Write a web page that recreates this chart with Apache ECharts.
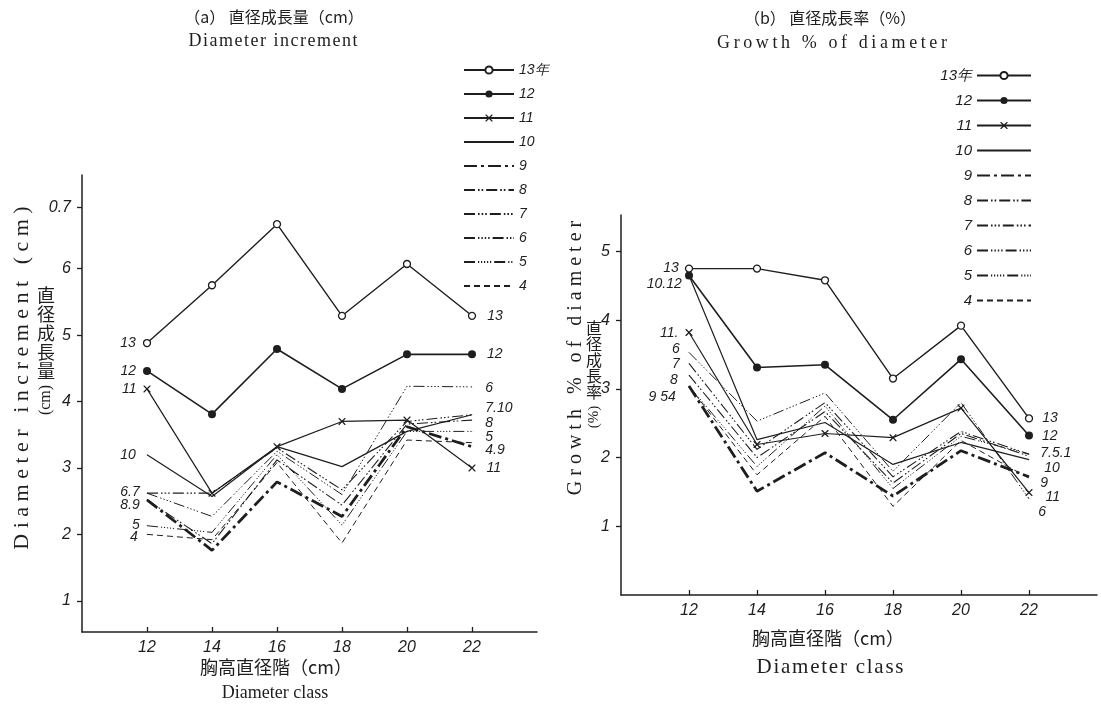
<!DOCTYPE html>
<html><head><meta charset="utf-8">
<script src="https://cdn.jsdelivr.net/npm/echarts@6/dist/echarts.min.js"></script>
<style>html,body{margin:0;padding:0;background:#fff}#c{width:1101px;height:708px}</style>
</head><body><div id="c"></div><script>
// ---- data ----
const classes = [12, 14, 16, 18, 20, 22];
const seriesNames = ['13年', '12', '11', '10', '9', '8', '7', '6', '5', '4'];
const yTicksLeft = [1, 2, 3, 4, 5, 6, 6.92];
const yTickLabelsLeft = ['1', '2', '3', '4', '5', '6', '0.7'];
const yTicksRight = [1, 2, 3, 4, 5];

// (a) diameter increment
const incr13 = [4.88, 5.75, 6.67, 5.29, 6.07, 5.29];
const incr12 = [4.46, 3.81, 4.79, 4.19, 4.71, 4.71];
const incr11 = [4.19, 2.62, 3.32, 3.70, 3.72, 3.00];
const incr10 = [3.20, 2.57, 3.32, 3.02, 3.55, 3.80];
const incr9  = [2.52, 1.76, 2.79, 2.27, 3.62, 3.32];
const incr8  = [2.52, 1.86, 3.12, 2.44, 3.66, 3.72];
const incr7  = [2.62, 2.62, 3.30, 2.67, 3.70, 3.80];
const incr6  = [2.62, 2.27, 3.25, 2.60, 4.23, 4.22];
const incr5  = [2.13, 2.03, 3.20, 2.14, 3.55, 3.55];
const incr4  = [2.00, 1.92, 3.08, 1.87, 3.42, 3.38];

// (b) growth % of diameter
const pct13 = [4.75, 4.75, 4.58, 3.15, 3.92, 2.57];
const pct12 = [4.65, 3.31, 3.35, 2.55, 3.43, 2.32];
const pct11 = [3.82, 2.19, 2.35, 2.29, 2.72, 1.49];
const pct10 = [4.65, 2.26, 2.51, 1.90, 2.22, 1.97];
const pct9  = [3.04, 1.51, 2.07, 1.44, 2.10, 1.72];
const pct8  = [3.20, 2.00, 2.67, 1.63, 2.35, 2.02];
const pct7  = [3.37, 2.12, 2.80, 1.72, 2.38, 2.05];
const pct6  = [3.53, 2.53, 2.94, 1.80, 2.80, 1.40];
const pct5  = [3.04, 1.87, 2.75, 1.55, 2.31, 2.05];
const pct4  = [3.04, 1.75, 2.60, 1.29, 2.25, 1.70];

const incrValues = [incr13, incr12, incr11, incr10, incr9, incr8, incr7, incr6, incr5, incr4];
const pctValues  = [pct13, pct12, pct11, pct10, pct9, pct8, pct7, pct6, pct5, pct4];

// line annotations (text only)
const leftStartLabels  = {'13年':'13','12':'12','11':'11','10':'10','7':'6.7','9':'8.9','5':'5','4':'4'};
const leftEndLabels    = {'13年':'13','12':'12','11':'11','6':'6','10':'7.10','8':'8','5':'5','9':'4.9'};
const rightStartLabels = {'13年':'13','10':'10.12','11':'11.','6':'6','7':'7','8':'8','9':'9 54'};
const rightEndLabels   = {'13年':'13','12':'12','7':'7.5.1','10':'10','9':'9','11':'11','6':'6'};

// ---- styles ----
const INK = '#1e1e1e';
const XPATH = 'path://M0,0L1.3,0L5,3.7L8.7,0L10,0L10,1.3L6.3,5L10,8.7L10,10L8.7,10L5,6.3L1.3,10L0,10L0,8.7L3.7,5L0,1.3Z';
const lineDef = {
  '13年': {w:1.4, t:'solid', sym:'circle', size:7, fill:'#fff'},
  '12':   {w:1.6, t:'solid', sym:'circle', size:8, fill:INK},
  '11':   {w:1.2, t:'solid', sym:XPATH, size:7, fill:INK},
  '10':   {w:1.2, t:'solid', sym:'none'},
  '9':    {w:2.8, t:[13,4,3,4], sym:'none'},
  '8':    {w:1.1, t:[11,3,1.6,2,1.6,3], sym:'none'},
  '7':    {w:1.1, t:[11,3,1.6,2,1.6,2,1.6,3], sym:'none'},
  '6':    {w:1.0, t:[11,3,1.4,2,1.4,2,1.4,2,1.4,3], sym:'none'},
  '5':    {w:1.0, t:[11,3,1.2,1.8,1.2,1.8,1.2,1.8,1.2,1.8,1.2,3], sym:'none'},
  '4':    {w:1.0, t:[6,4], sym:'none'}
};
const labelFont = {fontFamily:'Liberation Sans', fontStyle:'italic', fontSize:14, color:INK};

const leftStartOff = {'13年':[-2,0],'12':[-2,0],'11':[-2,0],'10':[-6,0],'7':[-2,-1],'9':[-2,5],'5':[-2,-1],'4':[-4,3]};
const leftEndOff   = {'13年':[6,0],'12':[6,0],'11':[6,0],'6':[8,1],'10':[8,-7],'8':[8,3],'5':[8,6],'9':[8,3]};
const rightStartOff= {'13年':[-1,0],'10':[-2,9],'11':[-2,1],'6':[-4,-3],'7':[-4,1],'8':[-6,5],'9':[-8,11]};
const rightEndOff  = {'13年':[4,0],'12':[4,1],'7':[6,-1],'10':[10,8],'9':[6,6],'11':[8,4],'6':[4,13]};

function buildSeries(valuesList, axisIdx, startL, endL, startO, endO) {
  return seriesNames.map((name, si) => {
    const d = lineDef[name];
    const plain = d.sym === 'none';
    const data = classes.map((c, i) => {
      const item = {value: [c, valuesList[si][i]]};
      let txt = null, pos = null, off = null;
      if (i === 0 && startL[name]) { txt = startL[name]; pos = 'left'; off = startO[name]; }
      if (i === classes.length - 1 && endL[name]) { txt = endL[name]; pos = 'right'; off = endO[name]; }
      if (txt) item.label = Object.assign({show:true, formatter:txt, position:pos, offset:off, distance:5}, labelFont);
      return item;
    });
    return {
      name, type:'line', xAxisIndex:axisIdx, yAxisIndex:axisIdx,
      data, symbol: plain ? 'circle' : d.sym, symbolSize: plain ? 0.5 : d.size, showSymbol:true,
      lineStyle:{color:INK, width:d.w, type:d.t},
      itemStyle:{color:d.fill || INK, borderColor:INK, borderWidth: name === '13年' ? 1.3 : 0},
      emphasis:{disabled:true}, animation:false, z: 10 - si
    };
  });
}
const legendData = seriesNames.map(n => lineDef[n].sym === 'none' ? {name:n, itemStyle:{opacity:0}} : {name:n});

const serif = 'Liberation Serif, DejaVu Serif, Noto Sans CJK JP, serif';
const cjk = 'Noto Sans CJK JP, sans-serif';
function spaced(s, sp) { return s.split('').join(sp); }

function txt(x, y, text, size, font, extra) {
  extra = extra || {};
  return {type:'text', x, y, rotation: extra.rotation || 0,
    style:Object.assign({text, fontSize:size, fontFamily:font, fill:INK, align:'center', verticalAlign:'middle'}, extra.style || {})};
}

const axisCommon = {
  axisLine:{show:true, lineStyle:{color:INK, width:1.5}},
  splitLine:{show:false},
};
const tickFont = {fontFamily:'Liberation Sans', fontStyle:'italic', fontSize:16, color:INK};

const chart = echarts.init(document.getElementById('c'), null, {renderer:'canvas'});
chart.setOption({
  backgroundColor:'#fff',
  animation:false,
  grid:[
    {left:82, top:175, right:564, bottom:76},
    {left:621, top:215, right:4, bottom:113}
  ],
  xAxis:[
    Object.assign({type:'value', gridIndex:0, min:10, max:24,
      axisTick:{show:true, inside:true, length:5, customValues:classes, lineStyle:{color:INK, width:1.3}},
      axisLabel:Object.assign({customValues:classes, margin:8}, tickFont)}, axisCommon),
    Object.assign({type:'value', gridIndex:1, min:10, max:24,
      axisTick:{show:true, inside:true, length:5, customValues:classes, lineStyle:{color:INK, width:1.3}},
      axisLabel:Object.assign({customValues:classes, margin:8}, tickFont)}, axisCommon)
  ],
  yAxis:[
    Object.assign({type:'value', gridIndex:0, min:0.53, max:7.41,
      axisTick:{show:true, length:5, customValues:yTicksLeft, lineStyle:{color:INK, width:1.3}},
      axisLabel:Object.assign({customValues:yTicksLeft, margin:11,
        formatter:(v) => { let k = 0; yTicksLeft.forEach((t, i) => { if (Math.abs(t - v) < 0.01) k = i; }); return yTickLabelsLeft[k]; }}, tickFont)}, axisCommon),
    Object.assign({type:'value', gridIndex:1, min:0, max:5.53,
      axisTick:{show:true, length:5, customValues:yTicksRight, lineStyle:{color:INK, width:1.3}},
      axisLabel:Object.assign({customValues:yTicksRight, margin:11}, tickFont)}, axisCommon)
  ],
  legend:[
    {data:legendData, orient:'vertical', left:458, top:58, itemWidth:50, itemHeight:9, itemGap:10, align:'left',
      textStyle:{fontFamily:'Liberation Sans', fontStyle:'italic', fontSize:14, lineHeight:14, color:INK}, selectedMode:false},
    {data:legendData, orient:'vertical', right:64, top:63, itemWidth:54, itemHeight:9, itemGap:10, align:'right',
      textStyle:{fontFamily:'Liberation Sans', fontStyle:'italic', fontSize:15, lineHeight:15, color:INK}, selectedMode:false}
  ],
  graphic:[
    txt(274, 17, '（a） 直径成長量（cm）', 16, cjk),
    txt(273, 41, spaced('Diameter increment', '\u200A'), 18, serif),
    txt(830, 18, '（b） 直径成長率（%）', 16, cjk),
    txt(832, 43, spaced('Growth % of diameter', '\u2009'), 18, serif),
    txt(276, 667, '胸高直径階（cm）', 18, cjk),
    txt(275, 693, 'Diameter class', 18, serif),
    txt(828, 638, '胸高直径階（cm）', 18, cjk),
    txt(830, 667, spaced('Diameter class', '\u200A'), 21, serif),
    txt(22, 378, spaced('Diameter increment (cm)', '\u2005'), 22, serif, {rotation:Math.PI/2}),
    txt(46, 333, '直\n径\n成\n長\n量', 18, cjk, {style:{lineHeight:19}}),
    txt(46, 400, '(cm)', 16, serif, {rotation:Math.PI/2}),
    txt(576, 358, spaced('Growth % of diameter', '\u2005'), 20, serif, {rotation:Math.PI/2}),
    txt(594, 360, '直\n径\n成\n長\n率', 16, cjk, {style:{lineHeight:16}}),
    txt(594, 417, '(%)', 15, serif, {rotation:Math.PI/2})
  ],
  series:[].concat(
    buildSeries(incrValues, 0, leftStartLabels, leftEndLabels, leftStartOff, leftEndOff),
    buildSeries(pctValues, 1, rightStartLabels, rightEndLabels, rightStartOff, rightEndOff)
  )
});
</script></body></html>
